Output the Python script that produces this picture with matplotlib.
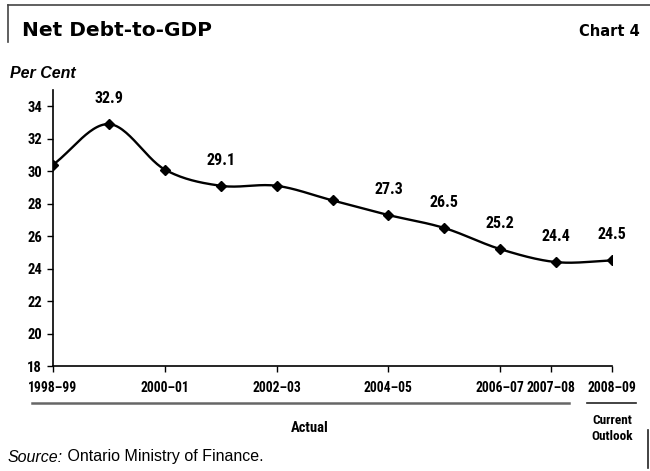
import matplotlib
matplotlib.use('Agg')
import matplotlib.pyplot as plt
from matplotlib.lines import Line2D
import numpy as np

years = ['1998-99', '1999-00', '2000-01', '2001-02', '2002-03', '2003-04',
         '2004-05', '2005-06', '2006-07', '2007-08', '2008-09']
debt_pct = [30.4, 32.9, 30.1, 29.1, 29.1, 28.2, 27.3, 26.5, 25.2, 24.4, 24.5]
labelled = [1, 3, 6, 7, 8, 9, 10]
tick_pos = [0, 2, 4, 6, 8, 8.9, 10]
tick_labels = ['1998\u201399', '2000\u201301', '2002\u201303', '2004\u201305',
               '2006\u201307', '2007\u201308', '2008\u201309']
y_ticks = [18, 20, 22, 24, 26, 28, 30, 32, 34]

NARROW = ['Roboto Condensed', 'PT Sans Narrow', 'Liberation Sans', 'DejaVu Sans']
PLAIN = ['Liberation Sans', 'DejaVu Sans']
HEAD = ['DejaVu Sans']


def smooth(x, y, n=30):
	# catmull-rom through the points, like a spreadsheet "smoothed line"
	x = np.asarray(x, float)
	y = np.asarray(y, float)
	px = np.concatenate([[2*x[0]-x[1]], x, [2*x[-1]-x[-2]]])
	py = np.concatenate([[2*y[0]-y[1]], y, [2*y[-1]-y[-2]]])
	t = np.linspace(0, 1, n)
	xs, ys = [], []
	for i in range(1, len(px)-2):
		for p, out in ((px, xs), (py, ys)):
			p0, p1, p2, p3 = p[i-1], p[i], p[i+1], p[i+2]
			out.extend(0.5*((2*p1) + (-p0+p2)*t + (2*p0-5*p1+4*p2-p3)*t**2 + (-p0+3*p1-3*p2+p3)*t**3))
	return np.array(xs), np.array(ys)


fig = plt.figure(figsize=(6.5, 4.71), dpi=100)
ax = fig.add_axes([53/650, 105/471, 559/650, 276/471])

idx = np.arange(len(debt_pct))
sx, sy = smooth(idx, debt_pct)
ax.plot(sx, sy, color='black', lw=1.7, solid_capstyle='round')
ax.plot(idx, debt_pct, ls='none', marker='D', ms=5.5, color='black')
for i in labelled:
	ax.annotate(f'{debt_pct[i]:.1f}', (idx[i], debt_pct[i]), xytext=(0, 13), textcoords='offset points',
		ha='center', va='bottom', fontsize=11.5, fontweight='bold', family=NARROW)

ax.set_xlim(0, 10)
ax.set_ylim(18, 35)
ax.set_yticks(y_ticks)
ax.set_xticks(tick_pos)
ax.set_xticklabels(tick_labels)
for s in ['top', 'right']:
	ax.spines[s].set_visible(False)
for s in ['left', 'bottom']:
	ax.spines[s].set_linewidth(1.2)
ax.tick_params(axis='both', direction='out', length=4, width=1.0)
ax.tick_params(axis='y', pad=4, labelsize=10.5)
ax.tick_params(axis='x', pad=7, labelsize=9.8)
for lab in ax.get_xticklabels() + ax.get_yticklabels():
	lab.set_fontweight('bold')
	lab.set_family(NARROW)

# frame pieces around the header
fig.add_artist(Line2D([8/650, 1], [1-5/471, 1-5/471], color='#444444', lw=1.2))
fig.add_artist(Line2D([8/650, 8/650], [1-5/471, 1-42/471], color='#444444', lw=1.2))
fig.add_artist(Line2D([648/650, 648/650], [1-430/471, 1-468/471], color='#222222', lw=1.2))

fig.text(22/650, 1-31/471, 'Net Debt-to-GDP', fontsize=14.5, fontweight='bold', va='center', ha='left', family=HEAD)
fig.text(640/650, 1-31/471, 'Chart 4', fontsize=10.5, fontweight='bold', va='center', ha='right', family=HEAD)
fig.text(10/650, 1-73/471, 'Per Cent', fontsize=11.5, fontweight='bold', style='italic', va='center', ha='left', family=PLAIN)

# period brackets under the axis
fig.add_artist(Line2D([32/650, 569/650], [1-403/471, 1-403/471], color='#666666', lw=1.8))
fig.add_artist(Line2D([587/650, 636/650], [1-403/471, 1-403/471], color='#222222', lw=1.2))
fig.text(310/650, 1-428/471, 'Actual', fontsize=10.5, fontweight='bold', va='center', ha='center', family=NARROW)
fig.text(612/650, 1-421/471, 'Current', fontsize=9.5, fontweight='bold', va='center', ha='center', family=NARROW)
fig.text(612/650, 1-436/471, 'Outlook', fontsize=9.5, fontweight='bold', va='center', ha='center', family=NARROW)

src = fig.text(8/650, 1-457/471, 'Source:', fontsize=11.5, style='italic', va='center', ha='left', family=PLAIN)
ax.annotate(' Ontario Ministry of Finance.', xy=(1, 0.5), xycoords=src, va='center', ha='left',
	fontsize=11.5, family=PLAIN, annotation_clip=False)

fig.savefig('out.png', dpi=100)
